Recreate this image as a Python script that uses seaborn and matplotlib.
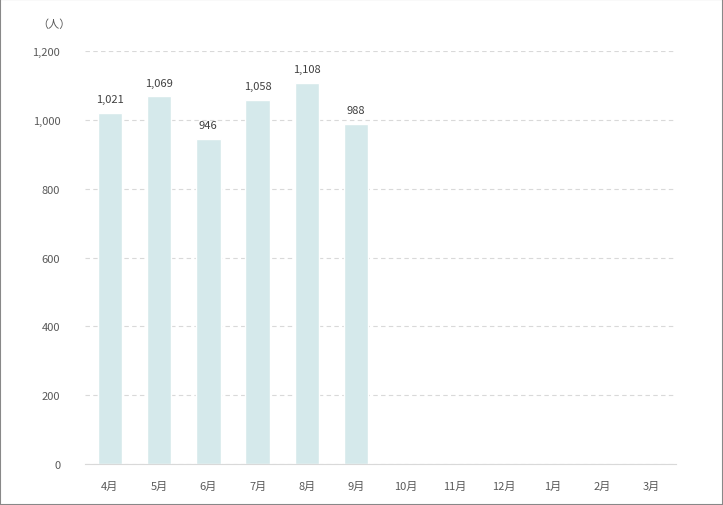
import matplotlib
matplotlib.use("Agg")
import matplotlib.pyplot as plt
import seaborn as sns
import pandas as pd

months = ["4月", "5月", "6月", "7月", "8月", "9月", "10月", "11月", "12月", "1月", "2月", "3月"]
values = [1021, 1069, 946, 1058, 1108, 988, None, None, None, None, None, None]

df = pd.DataFrame({"month": months, "value": values})

sns.set_style("white")
plt.rcParams["font.family"] = ["Noto Sans CJK JP", "DejaVu Sans"]

fig = plt.figure(figsize=(7.23, 5.06), dpi=100)
ax = fig.add_axes([0.118, 0.081, 0.817, 0.816])
sns.barplot(data=df, x="month", y="value", color="#d5e9eb", width=0.5, saturation=1, ax=ax)

for i, v in enumerate(values):
    if v is not None:
        ax.text(i, v + 25, f"{v:,}", ha="center", va="bottom", fontsize=8, color="#404040")

ax.set_ylim(0, 1200)
ax.set_yticks(range(0, 1201, 200))
ax.set_yticklabels([f"{t:,}" for t in range(0, 1201, 200)])
ax.yaxis.grid(True, linestyle=(0, (4, 3)), color="#d9d9d9", linewidth=0.8)
ax.set_axisbelow(True)
ax.set_xlabel("")
ax.set_ylabel("")
for s in ["top", "right", "left"]:
    ax.spines[s].set_visible(False)
ax.spines["bottom"].set_color("#d9d9d9")
ax.tick_params(axis="both", length=0, labelsize=8, colors="#595959", pad=12)
ax.tick_params(axis="y", pad=18)
fig.text(0.052, 0.945, "（人）", fontsize=8, color="#595959")

fig.patches.append(plt.Rectangle((0, 0), 1, 1, transform=fig.transFigure,
                                 fill=False, edgecolor="#888888", linewidth=1.5))
fig.savefig("out.png", dpi=100)
